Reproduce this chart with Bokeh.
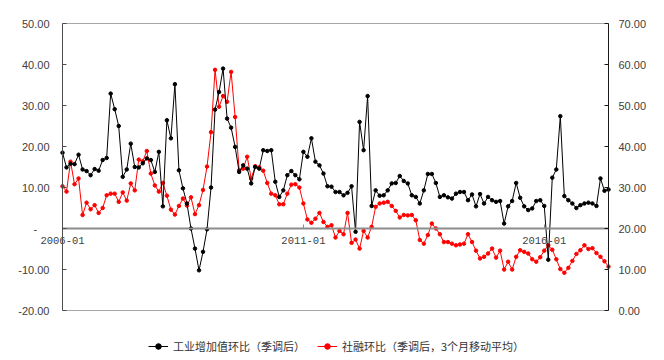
from bokeh.plotting import figure
from bokeh.models import Range1d, LinearAxis, FixedTicker, Legend, LegendItem
from bokeh.embed import file_html
from bokeh.resources import INLINE

# 工业增加值环比（季调后） — monthly, 2006-01 .. 2017-05 (left axis)
industry = [18.5, 14.9, 15.8, 15.7, 18.0, 14.4, 14.0, 13.0, 14.5, 14.1,
            16.7, 17.2, 32.9, 29.1, 25.0, 12.6, 14.4, 20.7, 15.0, 14.9,
            15.9, 17.1, 16.7, 13.8, 18.7, 5.4, 26.4, 22.0, 35.2, 14.2,
            9.8, 6.1, 0.0, -4.9, -10.2, -5.7, -0.2, 10.0, 29.0, 33.3,
            39.0, 26.8, 24.6, 19.9, 13.8, 15.4, 14.6, 11.0, 15.0, 14.6,
            19.1, 18.9, 19.1, 11.4, 7.7, 9.3, 13.0, 14.0, 13.0, 12.0,
            18.7, 17.5, 22.0, 16.3, 15.4, 13.4, 10.3, 10.2, 8.9, 8.9,
            8.1, 8.7, 10.3, -0.8, 26.0, 19.1, 32.3, 5.5, 9.3, 8.0,
            8.1, 9.3, 11.0, 11.1, 12.8, 11.6, 11.0, 8.1, 7.7, 6.1,
            9.3, 13.3, 13.3, 11.1, 7.7, 8.1, 7.6, 7.3, 8.5, 8.9,
            8.9, 6.9, 8.3, 5.4, 8.4, 6.1, 7.7, 6.9, 6.5, 6.7,
            1.2, 5.4, 6.7, 11.1, 7.5, 5.4, 4.5, 4.9, 6.7, 6.9,
            5.5, -7.6, 12.4, 14.4, 27.4, 7.9, 6.9, 6.1, 5.0, 5.7,
            6.1, 6.3, 6.1, 5.5, 12.2, 9.2, 9.5]

# 社融环比（季调后，3个月移动平均） (right axis)
financing = [30.3, 29.0, 36.3, 30.8, 32.2, 23.3, 26.3, 24.7, 25.7, 23.8,
             25.0, 28.1, 28.5, 28.5, 26.5, 28.8, 26.8, 31.0, 29.3, 36.8,
             36.4, 38.9, 33.4, 30.5, 29.0, 31.1, 28.0, 24.6, 23.4, 25.5,
             27.3, 25.6, 27.6, 23.5, 25.7, 29.4, 35.1, 43.5, 58.7, 49.7,
             52.3, 50.9, 58.2, 47.2, 34.2, 34.6, 37.5, 32.2, 35.2, 34.9,
             34.1, 31.1, 28.5, 28.1, 25.9, 25.9, 28.5, 30.7, 30.8, 30.0,
             26.1, 22.2, 21.4, 22.4, 23.8, 21.6, 20.4, 20.8, 17.8, 19.4,
             18.6, 23.8, 16.5, 17.3, 15.1, 19.4, 17.8, 20.4, 25.3, 26.1,
             26.3, 26.5, 25.5, 24.3, 22.7, 23.3, 23.2, 23.3, 22.0, 17.2,
             16.3, 18.4, 21.2, 20.0, 18.6, 16.7, 16.7, 16.3, 15.9, 16.1,
             16.3, 18.6, 16.7, 14.6, 12.7, 13.1, 13.9, 15.1, 12.9, 14.6,
             10.0, 11.9, 10.0, 13.1, 14.7, 14.3, 13.9, 12.5, 11.9, 13.0,
             14.6, 15.9, 14.8, 12.5, 10.1, 9.2, 10.4, 12.1, 13.8, 14.7,
             15.9, 15.0, 15.2, 14.0, 13.1, 12.0, 10.7]

tick_labels = ["2006-01", "2011-01", "2016-01"]
tick_index = [0, 60, 120]
left_ticks = [-20, -10, 0, 10, 20, 30, 40, 50]
right_ticks = [0, 10, 20, 30, 40, 50, 60, 70]

label_a = "工业增加值环比（季调后）"
label_b = "社融环比（季调后，3个月移动平均）"

x = list(range(len(industry)))
last = len(industry) - 1

# ---- layout (pixels) ----
W, H = 664, 360
PL, PR, PT, PB = 62, 608, 23, 310          # plot box inside the canvas
xs = (PR - PL) / last                        # px per month
ys = (PB - PT) / (left_ticks[-1] - left_ticks[0])
x0, x1 = -PL / xs, last + (W - PR) / xs
y0 = left_ticks[0] - (H - PB) / ys
y1 = left_ticks[-1] + PT / ys
shift = right_ticks[0] - left_ticks[0]

p = figure(width=W, height=H,
           x_range=Range1d(x0, x1), y_range=Range1d(y0, y1),
           output_backend="svg", toolbar_location=None,
           min_border_left=0, min_border_right=0,
           min_border_top=0, min_border_bottom=0)
p.extra_y_ranges = {"right": Range1d(y0 + shift, y1 + shift)}
p.xgrid.visible = False
p.ygrid.visible = False
p.outline_line_color = None
p.background_fill_color = "white"
p.border_fill_color = "white"

# box top / bottom edges
p.segment(x0=[0, 0], x1=[last, last], y0=[left_ticks[-1], left_ticks[0]],
          y1=[left_ticks[-1], left_ticks[0]], line_color="#a6a6a6", line_width=1)

# x axis crossing at zero
xa = p.xaxis[0]
xa.fixed_location = 0
xa.bounds = (0, last)
xa.ticker = FixedTicker(ticks=tick_index)
xa.major_label_overrides = {i: l for i, l in zip(tick_index, tick_labels)}
xa.axis_line_color = "#8c8c8c"
xa.axis_line_width = 2
xa.major_tick_in = 4
xa.major_tick_out = 0
xa.major_tick_line_color = "#8c8c8c"
xa.minor_tick_line_color = None
xa.major_label_text_font = "Liberation Mono"
xa.major_label_text_font_size = "10.5px"
xa.major_label_text_color = "#404040"
xa.major_label_standoff = 8

def fmt(v):
    return "-\u00a0\u00a0\u00a0\u00a0" if v == 0 else f"{v:.2f}"

ya = p.yaxis[0]
ya.fixed_location = 0
ya.bounds = (left_ticks[0], left_ticks[-1])
ya.ticker = FixedTicker(ticks=left_ticks)
ya.major_label_overrides = {v: fmt(v) for v in left_ticks}
ya.axis_line_color = "#4d4d4d"
ya.major_tick_in = 4
ya.major_tick_out = 0
ya.major_tick_line_color = "#4d4d4d"
ya.minor_tick_line_color = None
ya.major_label_text_font = "Liberation Sans"
ya.major_label_text_font_size = "11px"
ya.major_label_text_color = "#404040"
ya.major_label_standoff = 13

ra = LinearAxis(y_range_name="right", ticker=FixedTicker(ticks=right_ticks))
ra.fixed_location = last
ra.bounds = (right_ticks[0], right_ticks[-1])
ra.major_label_overrides = {v: f"{v:.2f}" for v in right_ticks}
ra.axis_line_color = "#1a1a1a"
ra.major_tick_in = 4
ra.major_tick_out = 0
ra.major_tick_line_color = "#1a1a1a"
ra.minor_tick_line_color = None
ra.major_label_text_font = "Liberation Sans"
ra.major_label_text_font_size = "11px"
ra.major_label_text_color = "#404040"
ra.major_label_standoff = 10
p.add_layout(ra, "right")

lb = p.line(x, financing, y_range_name="right", line_color="#ff0000", line_width=1)
sb = p.scatter(x, financing, y_range_name="right", size=3.5, fill_color="#ff0000", line_color="#ff0000")
la = p.line(x, industry, line_color="#000000", line_width=1)
sa = p.scatter(x, industry, size=3.5, fill_color="#000000", line_color="#000000")

legend = Legend(items=[LegendItem(label=label_a, renderers=[la, sa]),
                       LegendItem(label=label_b, renderers=[lb, sb])],
                orientation="horizontal", location=(148, 6),
                padding=0, margin=0, spacing=12, label_standoff=5,
                glyph_width=20, glyph_height=14, label_height=14,
                border_line_color=None, background_fill_alpha=0,
                label_text_font="Noto Sans CJK SC", label_text_font_size="11px",
                label_text_color="#333333")
p.add_layout(legend, "center")

open("out.html", "w").write(file_html(p, INLINE))
